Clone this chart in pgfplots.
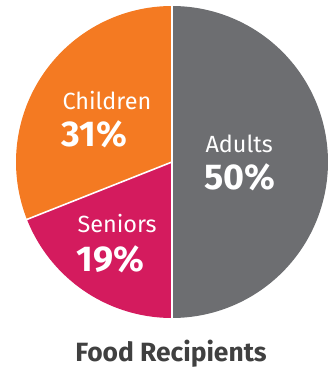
\documentclass[border=0pt]{standalone}
\usepackage{pgfplots}
\usepackage{pgfplotstable}
\pgfplotsset{compat=1.18}
\usepackage{fontspec}
\setmainfont{Fira Sans}
\definecolor{cgray}{HTML}{6D6E71}
\definecolor{cmag}{HTML}{D41B5E}
\definecolor{corange}{HTML}{F47A22}
\definecolor{ctitle}{HTML}{404040}
\pgfplotstableread{
label share
Adults 50
Seniors 19
Children 31
}\datatable
\begin{document}
\begin{tikzpicture}
\pgfplotstablegetelem{0}{share}\of\datatable \let\sA\pgfplotsretval
\pgfplotstablegetelem{1}{share}\of\datatable \let\sB\pgfplotsretval
\pgfplotstablegetelem{2}{share}\of\datatable \let\sC\pgfplotsretval
\pgfmathsetmacro\aA{90}
\pgfmathsetmacro\aB{\aA-3.6*\sA}
\pgfmathsetmacro\aC{\aB-3.6*\sB}
\pgfmathsetmacro\aD{\aC-3.6*\sC}
\begin{axis}[
  width=332bp, height=372bp, scale only axis,
  xmin=0, xmax=332, ymin=0, ymax=372,
  hide axis, clip=false,
]
\path (axis cs:0,0) rectangle (axis cs:332,372);
\addplot[fill=cgray, draw=none, domain=\aB:\aA, samples=120] ({172+156*cos(x)},{210+156*sin(x)}) -- (axis cs:172,210) -- cycle;
\addplot[fill=cmag, draw=none, domain=\aC:\aB, samples=60] ({172+156*cos(x)},{210+156*sin(x)}) -- (axis cs:172,210) -- cycle;
\addplot[fill=corange, draw=none, domain=\aD:\aC, samples=90] ({172+156*cos(x)},{210+156*sin(x)}) -- (axis cs:172,210) -- cycle;
\draw[white, line width=1.6bp] (axis cs:172,366.5) -- (axis cs:172,53.5);
\draw[white, line width=1.6bp] (axis cs:172,210) -- (axis cs:{172+157*cos(\aC)},{210+157*sin(\aC)});
\node[anchor=base west, white, font=\fontsize{23.5}{26}\selectfont] at (axis cs:59,262) {Children};
\node[anchor=base west, white, font=\fontsize{36}{40}\selectfont\bfseries] at (axis cs:58,225) {31\%};
\node[anchor=base west, white, font=\fontsize{23.5}{26}\selectfont] at (axis cs:202,219) {Adults};
\node[anchor=base west, white, font=\fontsize{36}{40}\selectfont\bfseries] at (axis cs:201,182) {50\%};
\node[anchor=base west, white, font=\fontsize{23.5}{26}\selectfont] at (axis cs:74,139) {Seniors};
\node[anchor=base west, white, font=\fontsize{36}{40}\selectfont\bfseries] at (axis cs:73,100) {19\%};
\node[anchor=base, ctitle, font=\fontsize{26.5}{29}\selectfont\bfseries] at (axis cs:171,10.5) {Food Recipients};
\end{axis}
\end{tikzpicture}
\end{document}
